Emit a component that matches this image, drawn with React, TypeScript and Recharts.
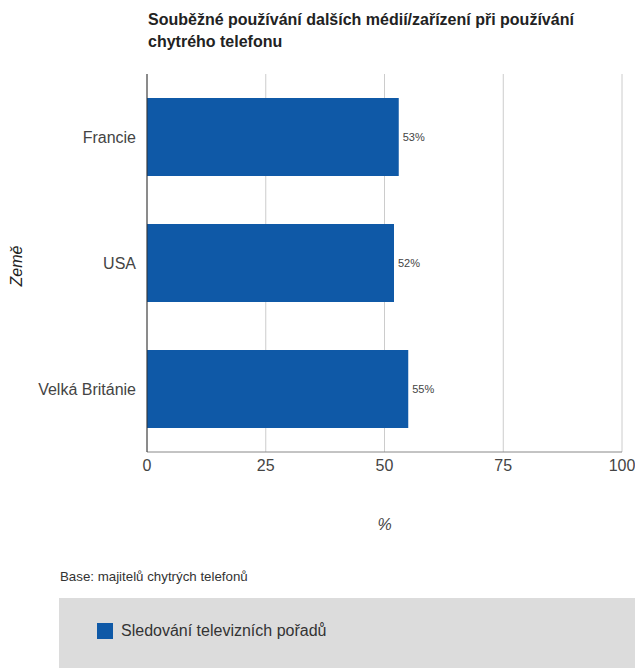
import React from 'react';
import { BarChart, Bar, XAxis, YAxis, CartesianGrid, LabelList } from 'recharts';

const countries = ['Francie', 'USA', 'Velká Británie'];
const values = [53, 52, 55];
const xTicks = [0, 25, 50, 75, 100];
const seriesName = 'Sledování televizních pořadů';
const titleLines = ['Souběžné používání dalších médií/zařízení při používání', 'chytrého telefonu'];
const yTitle = 'Země';
const xTitle = '%';
const baseNote = 'Base: majitelů chytrých telefonů';

const data = countries.map((c, i) => ({ country: c, value: values[i] }));

const FONT = '"Liberation Sans", Arial, sans-serif';
const BAR = '#0f59a7';

const YLabel = (props: any) => {
  const vb = props.viewBox || {};
  const cy = vb.y + vb.height / 2 + 3;
  return (
    <text x={22} y={cy} transform={`rotate(-90, 22, ${cy})`} textAnchor="middle" fontSize={16} fontStyle="italic" fill="#222" fontFamily={FONT}>
      {yTitle}
    </text>
  );
};

const XLabel = (props: any) => {
  const vb = props.viewBox || {};
  const cx = vb.x + vb.width / 2;
  return (
    <text x={cx} y={530} textAnchor="middle" fontSize={16} fontStyle="italic" fill="#444" fontFamily={FONT}>
      {xTitle}
    </text>
  );
};

export default function App() {
  return (
    <div style={{ position: 'absolute', left: 0, top: 0, width: 635, height: 668, background: '#fff', fontFamily: FONT, overflow: 'hidden' }}>
      <div style={{ position: 'absolute', left: 148, top: 9, width: 480, fontSize: 16, fontWeight: 'bold', lineHeight: '22px', color: '#222', whiteSpace: 'nowrap' }}>
        {titleLines.map((l, i) => (
          <div key={i}>{l}</div>
        ))}
      </div>
      <BarChart
        width={635}
        height={668}
        data={data}
        layout="vertical"
        margin={{ top: 74, right: 13, bottom: 136, left: 0 }}
        barCategoryGap="19%"
      >
        <CartesianGrid horizontal={false} stroke="#cccccc" />
        <XAxis
          type="number"
          domain={[0, 100]}
          ticks={xTicks}
          height={80}
          tickLine={false}
          axisLine={{ stroke: '#888' }}
          tick={{ fontSize: 16, fill: '#444', fontFamily: FONT }}
          interval={0}
          label={<XLabel />}
        />
        <YAxis
          type="category"
          dataKey="country"
          width={147}
          tickLine={false}
          tickMargin={5}
          axisLine={{ stroke: '#333' }}
          tick={{ fontSize: 16, fill: '#444', fontFamily: FONT }}
          label={<YLabel />}
        />
        <Bar dataKey="value" fill={BAR} isAnimationActive={false}>
          <LabelList dataKey="value" position="right" offset={4} fontSize={11} fill="#444" fontFamily={FONT} formatter={(v: any) => `${v}%`} />
        </Bar>
      </BarChart>
      <div style={{ position: 'absolute', left: 60, top: 569, fontSize: 13.3, color: '#333' }}>{baseNote}</div>
      <div style={{ position: 'absolute', left: 59, top: 598, width: 600, height: 70, background: '#dcdcdc' }}>
        <div style={{ position: 'absolute', left: 38, top: 25, width: 16, height: 16, background: BAR }} />
        <div style={{ position: 'absolute', left: 62, top: 24, fontSize: 16, color: '#333', lineHeight: '18px' }}>{seriesName}</div>
      </div>
    </div>
  );
}
